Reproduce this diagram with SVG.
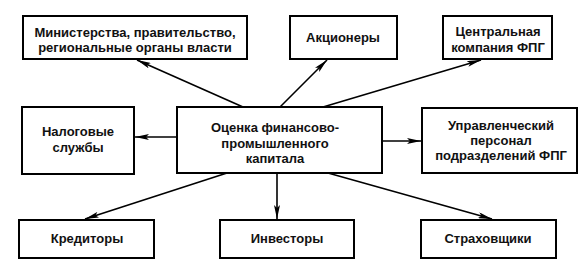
<svg xmlns="http://www.w3.org/2000/svg" width="583" height="273" viewBox="0 0 583 273">
<style>
.box{fill:#fff;stroke:#000;stroke-width:2}
.t{font-family:"Liberation Sans",Arial,sans-serif;font-size:13px;font-weight:bold;fill:#111;text-anchor:middle}
.c{fill:none;stroke:#000;stroke-width:1.6}
</style>
<defs>
<marker id="ah" viewBox="0 0 14 6" refX="14" refY="3" markerWidth="14" markerHeight="6" markerUnits="userSpaceOnUse" orient="auto">
<path d="M0,0 L14,3 L0,6 L3,3 Z" fill="#000"/>
</marker>
</defs>
<rect width="583" height="273" fill="#fff"/>
<g id="connectors">
<line class="c" x1="243" y1="107" x2="137" y2="60" marker-end="url(#ah)"/>
<line class="c" x1="280" y1="107" x2="327" y2="60" marker-end="url(#ah)"/>
<line class="c" x1="323" y1="107" x2="481" y2="60" marker-end="url(#ah)"/>
<line class="c" x1="177" y1="137" x2="135" y2="137" marker-end="url(#ah)"/>
<line class="c" x1="382" y1="141" x2="421" y2="141" marker-end="url(#ah)"/>
<line class="c" x1="227" y1="173" x2="85" y2="219" marker-end="url(#ah)"/>
<line class="c" x1="277" y1="173" x2="277" y2="219" marker-end="url(#ah)"/>
<line class="c" x1="328" y1="173" x2="492" y2="219" marker-end="url(#ah)"/>
</g>
<g id="ministries">
<rect class="box" x="23" y="16" width="224" height="43"/>
<text class="t" x="135" y="37">Министерства, правительство,</text>
<text class="t" x="135" y="52">региональные органы власти</text>
</g>
<g id="shareholders">
<rect class="box" x="290" y="16" width="107" height="43"/>
<text class="t" x="343" y="42">Акционеры</text>
</g>
<g id="central">
<rect class="box" x="443" y="16" width="109" height="43"/>
<text class="t" x="498" y="36">Центральная</text>
<text class="t" x="498" y="52">компания ФПГ</text>
</g>
<g id="tax">
<rect class="box" x="22" y="107" width="112" height="67"/>
<text class="t" x="78" y="136">Налоговые</text>
<text class="t" x="78" y="152">службы</text>
</g>
<g id="center">
<rect class="box" x="177" y="107" width="205" height="66"/>
<text class="t" x="275" y="132">Оценка финансово-</text>
<text class="t" x="275" y="148">промышленного</text>
<text class="t" x="275" y="163">капитала</text>
</g>
<g id="management">
<rect class="box" x="422" y="108" width="155" height="65"/>
<text class="t" x="501" y="130">Управленческий</text>
<text class="t" x="501" y="145">персонал</text>
<text class="t" x="501" y="160">подразделений ФПГ</text>
</g>
<g id="creditors">
<rect class="box" x="19" y="220" width="135" height="38"/>
<text class="t" x="87" y="243">Кредиторы</text>
</g>
<g id="investors">
<rect class="box" x="220" y="220" width="134" height="38"/>
<text class="t" x="287" y="243">Инвесторы</text>
</g>
<g id="insurers">
<rect class="box" x="421" y="220" width="135" height="38"/>
<text class="t" x="488" y="243">Страховщики</text>
</g>
</svg>
